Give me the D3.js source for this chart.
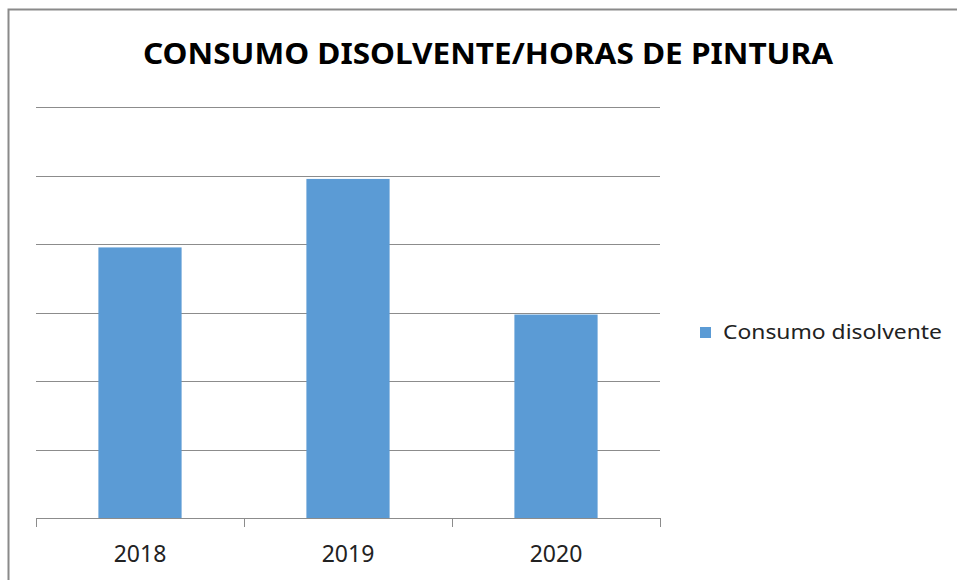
<!DOCTYPE html>
<html>
<head>
<meta charset="utf-8">
<script src="https://cdn.jsdelivr.net/npm/d3@7"></script>
<style>
  body { margin: 0; background: #fff; }
  svg { display: block; font-family: "Noto Sans", "Open Sans", sans-serif; }
</style>
</head>
<body>
<div id="chart"></div>
<script>
// datos
const years = ["2018", "2019", "2020"];
const consumo = [3.95, 4.95, 2.97];
const yTicks = [0, 1, 2, 3, 4, 5, 6];
const seriesName = "Consumo disolvente";
const title = "CONSUMO DISOLVENTE/HORAS DE PINTURA";

const W = 957, H = 580;
const plot = { left: 36, right: 660, top: 107, bottom: 518 };

const svg = d3.select("#chart").append("svg")
    .attr("width", W)
    .attr("height", H);

// marco
svg.append("path")
    .attr("d", `M8.5,${H} L8.5,9.5 L${W},9.5`)
    .attr("fill", "none")
    .attr("stroke", "#8a8a8a")
    .attr("stroke-width", 2);

const x = d3.scaleBand()
    .domain(years)
    .range([plot.left, plot.right])
    .paddingInner(0.6)
    .paddingOuter(0.3);

const y = d3.scaleLinear()
    .domain([0, 6])
    .range([plot.bottom, plot.top]);

// lineas de cuadricula
svg.append("g")
    .selectAll("line")
    .data(yTicks.filter(d => d > 0))
    .enter()
    .append("line")
    .attr("x1", plot.left)
    .attr("x2", plot.right)
    .attr("y1", d => Math.round(y(d)) + 0.5)
    .attr("y2", d => Math.round(y(d)) + 0.5)
    .attr("stroke", "#8c8c8c")
    .attr("stroke-width", 1);

// barras
svg.append("g")
    .selectAll("rect")
    .data(years)
    .enter()
    .append("rect")
    .attr("x", d => x(d))
    .attr("y", (d, i) => y(consumo[i]))
    .attr("width", x.bandwidth())
    .attr("height", (d, i) => y(0) - y(consumo[i]))
    .attr("fill", "#5b9bd5");

// eje x
const xBounds = d3.scaleLinear().domain([0, years.length]).range([plot.left, plot.right]);
const axis = svg.append("g");
axis.append("line")
    .attr("x1", plot.left)
    .attr("x2", plot.right)
    .attr("y1", plot.bottom + 0.5)
    .attr("y2", plot.bottom + 0.5)
    .attr("stroke", "#8c8c8c");
axis.selectAll(".tick")
    .data(d3.range(years.length + 1))
    .enter()
    .append("line")
    .attr("x1", d => Math.round(xBounds(d)) + 0.5)
    .attr("x2", d => Math.round(xBounds(d)) + 0.5)
    .attr("y1", plot.bottom)
    .attr("y2", plot.bottom + 9)
    .attr("stroke", "#8c8c8c");
axis.selectAll(".lbl")
    .data(years)
    .enter()
    .append("text")
    .attr("x", d => x(d) + x.bandwidth() / 2)
    .attr("y", 562)
    .attr("text-anchor", "middle")
    .attr("font-size", "23px")
    .attr("fill", "#222")
    .text(d => d);

// titulo
svg.append("text")
    .attr("x", 488)
    .attr("y", 64)
    .attr("text-anchor", "middle")
    .attr("font-size", "29px")
    .attr("font-weight", "bold")
    .attr("fill", "#000")
    .attr("textLength", 690)
    .attr("lengthAdjust", "spacingAndGlyphs")
    .text(title);

// leyenda
const legend = svg.append("g");
legend.append("rect")
    .attr("x", 700)
    .attr("y", 327)
    .attr("width", 11)
    .attr("height", 11)
    .attr("fill", "#5b9bd5");
legend.append("text")
    .attr("x", 723)
    .attr("y", 339)
    .attr("font-size", "20px")
    .attr("fill", "#222")
    .attr("textLength", 219)
    .attr("lengthAdjust", "spacingAndGlyphs")
    .text(seriesName);
</script>
</body>
</html>
